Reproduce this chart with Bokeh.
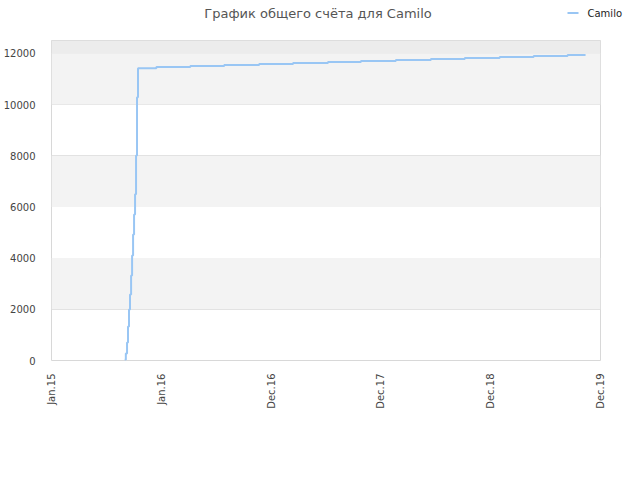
import math
from bokeh.plotting import figure
from bokeh.layouts import column
from bokeh.models import BoxAnnotation, FixedTicker
from bokeh.core.properties import value
from bokeh.embed import file_html
from bokeh.resources import INLINE

# data (x in tick-index units: 0 = "Jan.15", 5 = "Dec.19")
step_x = [0.666, 0.677, 0.688, 0.697, 0.706, 0.715, 0.725, 0.734, 0.743, 0.752,
          0.761, 0.770, 0.779, 0.788, 0.955, 1.264, 1.573, 1.891, 2.200, 2.518,
          2.818, 3.136, 3.455, 3.764, 4.082, 4.391, 4.700, 4.864]
step_y = [30, 270, 700, 1330, 1990, 2580, 3320, 4100, 4920, 5700,
          6490, 8010, 10280, 11420, 11464, 11503, 11542, 11581, 11620, 11660,
          11698, 11737, 11776, 11815, 11854, 11893, 11932, 11932]
tick_pos = [0, 1, 2, 3, 4, 5]
tick_labels = ["Jan.15", "Jan.16", "Dec.16", "Dec.17", "Dec.18", "Dec.19"]
y_ticks = [0, 2000, 4000, 6000, 8000, 10000, 12000]
series_name = "Camilo"
title_text = "График общего счёта для Camilo"

FONT = "DejaVu Sans"
LINE_COLOR = "#99c6f4"

# ---- header: title and legend (page-pixel coordinates, y downwards) ----
h = figure(width=640, height=40, output_backend="svg", toolbar_location=None,
           x_range=(0, 640), y_range=(40, 0),
           x_axis_location=None, y_axis_location=None,
           min_border=0, min_border_left=0, min_border_right=0,
           min_border_top=0, min_border_bottom=0)
if "frame_align" in h.properties():
    h.frame_align = False
h.outline_line_color = None
h.grid.visible = False
h.background_fill_color = "white"
h.border_fill_color = "white"
h.text(x=[317.5], y=[13], text=[title_text], text_font=value(FONT),
       text_font_size="13px", text_color="#555555",
       text_align="center", text_baseline="middle")
h.segment(x0=[567], y0=[12.5], x1=[578], y1=[12.5], line_color=LINE_COLOR, line_width=2)
h.text(x=[587], y=[12.5], text=[series_name], text_font=value(FONT),
       text_font_size="10px", text_color="#222222",
       text_align="left", text_baseline="middle")

# ---- main chart ----
p = figure(width=640, height=440, output_backend="svg", toolbar_location=None,
           x_range=(0, 5), y_range=(0, 12500),
           min_border_left=50, min_border_right=40, min_border_top=0,
           min_border_bottom=120)
if "frame_align" in p.properties():
    p.frame_align = False
p.background_fill_color = "white"
p.border_fill_color = "white"
p.outline_line_color = "#d8d8d8"
p.outline_line_width = 1

for lo, hi in [(2000, 4000), (6000, 8000), (10000, 12000)]:
    p.add_layout(BoxAnnotation(bottom=lo, top=hi, fill_color="#f3f3f3", fill_alpha=1,
                               line_alpha=0, level="underlay"))
p.add_layout(BoxAnnotation(bottom=12000, top=12500, fill_color="#ececec", fill_alpha=1,
                           line_alpha=0, level="underlay"))

p.xgrid.visible = False
p.ygrid.ticker = FixedTicker(ticks=y_ticks)
p.ygrid.grid_line_color = "#dddddd"
p.ygrid.grid_line_width = 1

p.step(step_x, step_y, mode="after", line_color=LINE_COLOR, line_width=2)

p.xaxis.ticker = FixedTicker(ticks=tick_pos)
p.xaxis.major_label_overrides = {t: l for t, l in zip(tick_pos, tick_labels)}
p.xaxis.major_label_orientation = math.pi / 2
p.yaxis.ticker = FixedTicker(ticks=y_ticks)
for ax in (p.xaxis, p.yaxis):
    ax.axis_line_color = None
    ax.major_tick_line_color = None
    ax.minor_tick_line_color = None
    ax.major_label_text_font = FONT
    ax.major_label_text_font_size = "10px"
    ax.major_label_text_color = "#444444"
p.yaxis.major_label_standoff = 10
p.xaxis.major_label_standoff = 7

layout = column(h, p, spacing=0)
open("out.html", "w").write(file_html(layout, INLINE))
